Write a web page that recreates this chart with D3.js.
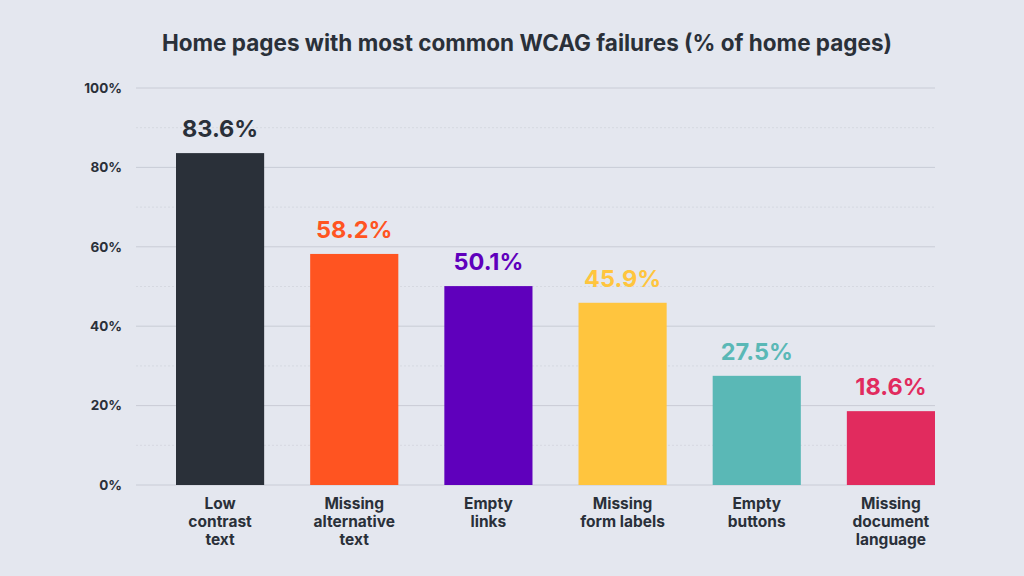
<!DOCTYPE html>
<html>
<head>
<meta charset="utf-8">
<script src="https://cdn.jsdelivr.net/npm/d3@7"></script>
<style>
  body { margin: 0; background: #e4e7ef; }
  svg { display: block; font-family: "Inter", "Noto Sans", sans-serif; }
</style>
</head>
<body>
<svg id="chart"></svg>
<script>
/* data */
var categories = [
    ["Low", "contrast", "text"],
    ["Missing", "alternative", "text"],
    ["Empty", "links"],
    ["Missing", "form labels"],
    ["Empty", "buttons"],
    ["Missing", "document", "language"]
];
var values = [83.6, 58.2, 50.1, 45.9, 27.5, 18.6];
var colors = ["#2a3039", "#ff5421", "#5f00bc", "#ffc53e", "#5ab8b6", "#e12b5e"];
var yTicks = [0, 20, 40, 60, 80, 100];
var minorTicks = [10, 30, 50, 70, 90];

var W = 1024, H = 576;
var svg = d3.select('#chart')
    .attr('width', W)
    .attr('height', H)
    .style('background', '#e4e7ef');

var plotLeft = 136, plotRight = 935;

var y = d3.scaleLinear().domain([0, 100]).range([485, 88]);
var x = d3.scaleBand()
    .domain(d3.range(values.length))
    .range([176, 935])
    .paddingInner(0.343)
    .paddingOuter(0);

/* title */
svg.append('text')
    .attr('x', 527)
    .attr('y', 51)
    .attr('text-anchor', 'middle')
    .attr('font-size', 22.5)
    .attr('font-weight', 700)
    .attr('fill', '#2a3039')
    .text('Home pages with most common WCAG failures (% of home pages)');

/* grid */
svg.append('g')
    .selectAll('line.minor')
    .data(minorTicks)
    .enter()
    .append('line')
    .attr('x1', plotLeft).attr('x2', plotRight)
    .attr('y1', d => y(d)).attr('y2', d => y(d))
    .attr('stroke', '#d6d9e1')
    .attr('stroke-dasharray', '2,2');

svg.append('g')
    .selectAll('line.major')
    .data(yTicks)
    .enter()
    .append('line')
    .attr('x1', plotLeft).attr('x2', plotRight)
    .attr('y1', d => y(d)).attr('y2', d => y(d))
    .attr('stroke', '#c9ccd6');

/* y axis */
var yAxis = svg.append('g')
    .attr('transform', `translate(${plotLeft - 11},0)`)
    .call(d3.axisLeft(y).tickValues(yTicks).tickSize(0).tickFormat(d => d + '%'));
yAxis.select('.domain').remove();
yAxis.selectAll('text')
    .attr('font-size', 13.5)
    .attr('font-weight', 700)
    .attr('fill', '#2a3039')
    .attr('font-family', '"Inter", "Noto Sans", sans-serif');

/* bars */
svg.append('g')
    .selectAll('rect')
    .data(values)
    .enter()
    .append('rect')
    .attr('x', (d, i) => x(i))
    .attr('y', d => y(d))
    .attr('width', x.bandwidth())
    .attr('height', d => y(0) - y(d))
    .style('fill', (d, i) => colors[i]);

/* value labels */
svg.append('g')
    .selectAll('text')
    .data(values)
    .enter()
    .append('text')
    .attr('x', (d, i) => x(i) + x.bandwidth() / 2)
    .attr('y', d => y(d) - 16)
    .attr('text-anchor', 'middle')
    .attr('font-size', 23.5)
    .attr('font-weight', 700)
    .attr('fill', (d, i) => colors[i])
    .text(d => d.toFixed(1) + '%');

/* category labels */
var cat = svg.append('g')
    .selectAll('text')
    .data(categories)
    .enter()
    .append('text')
    .attr('text-anchor', 'middle')
    .attr('font-size', 15.5)
    .attr('font-weight', 700)
    .attr('fill', '#2a3039');

cat.selectAll('tspan')
    .data((d, i) => d.map(t => ({t: t, i: i})))
    .enter()
    .append('tspan')
    .attr('x', d => x(d.i) + x.bandwidth() / 2)
    .attr('y', (d, j) => 509 + j * 18)
    .text(d => d.t);
</script>
</body>
</html>
